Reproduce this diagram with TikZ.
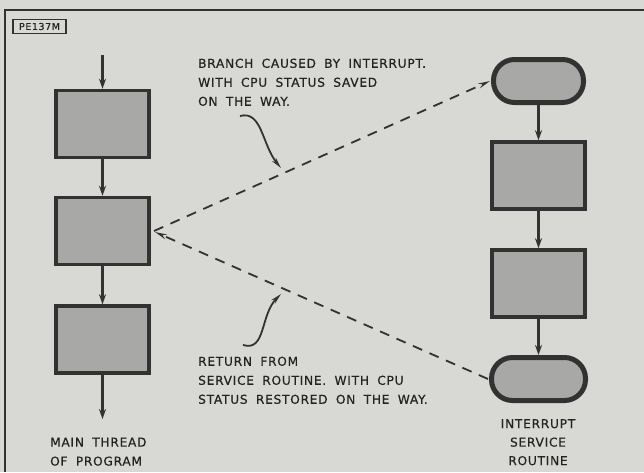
\documentclass[tikz,border=0pt]{standalone}
\usepackage{fontspec}
\setmainfont{DejaVu Sans}[LetterSpace=6, WordSpace=1.8, FakeBold=0.4]
\usetikzlibrary{arrows.meta}
\definecolor{bg}{RGB}{216,216,212}
\definecolor{boxfill}{RGB}{168,168,166}
\definecolor{ink}{RGB}{50,50,50}
\definecolor{txt}{RGB}{34,34,34}
\tikzset{
  procbox/.style={draw=ink, fill=boxfill, line width=3.5pt, minimum width=93pt, minimum height=67pt, inner sep=0pt},
  termbox/.style={draw=ink, fill=boxfill, line width=5pt, rounded corners=21pt, minimum width=90pt, minimum height=43pt, inner sep=0pt},
  flow/.style={draw=ink, line width=2.6pt, -{Stealth[length=10pt,width=7pt]}},
  dashlink/.style={draw=ink, line width=1.8pt, dash pattern=on 10pt off 8pt, -{Stealth[length=12pt,width=5pt]}},
  pointer/.style={draw=ink, line width=1.8pt, -{Stealth[length=11pt,width=5pt]}},
  notetext/.style={text=txt, font=\fontsize{12.2}{19}\selectfont, align=left, inner sep=0pt, anchor=north west},
  ctext/.style={text=txt, font=\fontsize{12.2}{18.5}\selectfont, align=center, inner sep=0pt, anchor=north}
}
\begin{document}
\begin{tikzpicture}[x=1pt,y=-1pt]
\fill[bg] (0,0) rectangle (644,472);
\useasboundingbox (0,0) rectangle (644,472);
% frame
\draw[ink, line width=1.5pt] (644,10) -- (5,10) -- (5,472);
\node[draw=ink, line width=1.2pt, minimum width=53pt, minimum height=14pt, inner sep=0pt, text=txt, font=\fontsize{9.5}{10}\selectfont] (tag) at (39.5,26.5) {PE137M};

% main thread
\coordinate (mtop) at (102.5,55);
\node[procbox] (b1) at (102.5,124) {};
\node[procbox] (b2) at (102.5,231) {};
\node[procbox] (b3) at (102.5,339.5) {};
\coordinate (mbot) at (102.5,419);
\draw[flow] (mtop) -- (b1.north);
\draw[flow] (b1.south) -- (b2.north);
\draw[flow] (b2.south) -- (b3.north);
\draw[flow] (b3.south) -- (mbot);

% service routine
\node[termbox] (t1) at (538.5,81) {};
\node[procbox] (r1) at (538.5,175.5) {};
\node[procbox] (r2) at (538.5,283.5) {};
\node[termbox, minimum width=94pt] (t2) at (538.5,379) {};
\draw[flow] (t1.south) -- (r1.north);
\draw[flow] (r1.south) -- (r2.north);
\draw[flow] (r2.south) -- (t2.north);

% interrupt links
\coordinate (j) at (154,231);
\coordinate (jin) at (155,232);
\draw[dashlink] (j) -- ([xshift=-1pt]t1.west);
\draw[dashlink] ([xshift=-1pt]t2.west) -- (jin);

% labels
\node[notetext] (lb) at (198,58.5) {BRANCH CAUSED BY INTERRUPT.\\WITH CPU STATUS SAVED\\ON THE WAY.};
\node[notetext] (lr) at (198,356.5) {RETURN FROM\\SERVICE ROUTINE. WITH CPU\\STATUS RESTORED ON THE WAY.};
\node[notetext] (lm) at (50,437.5) {MAIN THREAD\\OF PROGRAM};
\node[ctext] (li) at (538,419) {INTERRUPT\\SERVICE\\ROUTINE};

% pointers
\coordinate (p1s) at (240,116);
\coordinate (p1e) at (281,168);
\draw[pointer] (p1s) .. controls (262,110) and (262,145) .. (p1e);
\coordinate (p2s) at (243,345);
\coordinate (p2e) at (281,294);
\draw[pointer] (p2s) .. controls (266,352) and (260,315) .. (p2e);
\end{tikzpicture}
\end{document}
